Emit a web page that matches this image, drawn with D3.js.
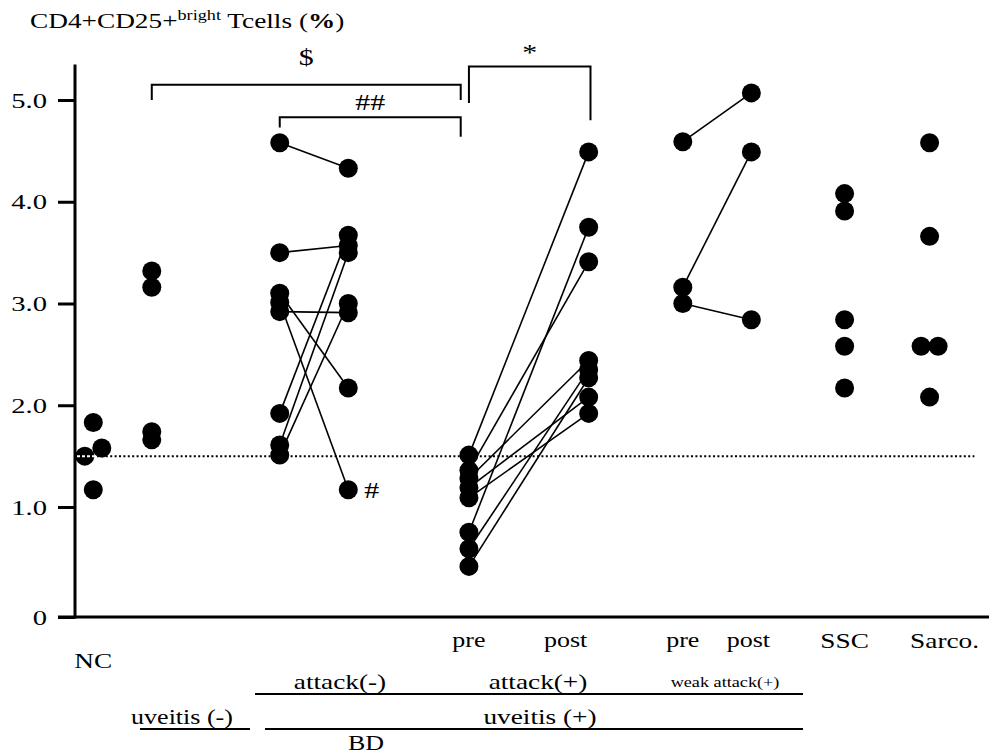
<!DOCTYPE html>
<html>
<head>
<meta charset="utf-8">
<script src="https://cdn.jsdelivr.net/npm/d3@7"></script>
<style>
  body { margin: 0; background: #fff; }
  text { font-family: "Liberation Serif", "Times New Roman", serif; fill: #000; }
</style>
</head>
<body>
<div id="chart"></div>
<script>
// values (percent)
const ncValues = [1.83, 1.58, 1.50, 1.17];
const uveitisNegValues = [3.32, 3.16, 1.74, 1.66];
// paired: pre[i] -> post[i]
const attackNegPre = [4.58, 3.50, 3.10, 3.01, 2.92, 1.92, 1.61, 1.51];
const attackNegPost = [4.33, 3.57, 2.17, 1.17, 2.91, 3.67, 3.50, 3.00];
const attackPosPre = [1.51, 1.36, 0.77, 1.28, 1.19, 1.09, 0.62, 0.46];
const attackPosPost = [4.49, 3.41, 3.75, 2.44, 2.08, 1.92, 2.35, 2.27];
const weakPre = [4.59, 3.16, 3.00];
const weakPost = [5.07, 4.49, 2.84];
const sscValues = [4.08, 3.91, 2.84, 2.58, 2.17];
const sarcoValues = [4.58, 3.66, 2.58, 2.58, 2.08];

const yTicks = [0, 1, 2, 3, 4, 5];
const yTickLabels = ["0", "1.0", "2.0", "3.0", "4.0", "5.0"];
const cutoff = 1.5;

// column layout (x scale units) and small side shifts for overlapping dots
const col = { nc: 2, uvNeg: 8.4, anPre: 22.4, anPost: 29.9, apPre: 43.1, apPost: 56.2,
              wPre: 66.5, wPost: 74, ssc: 84.2, sarco: 93.5 };
const ncShift = [0, 1, -1, 0];
const sarcoShift = [0, 0, -1, 1, 0];

const width = 989, height = 755;
const stretch = 1.3; // the original type is wide

const svg = d3.select("#chart").append("svg")
    .attr("width", width)
    .attr("height", height);

const x = d3.scaleLinear().domain([0, 100]).range([75, 989]);
// the axis is a bit stretched between 0 and 1 in the original
const y = d3.scaleLinear().domain([0, 1, 5]).range([617, 507, 100]);

// text helper: wide serif text
function label(g, t, tx, ty, size, anchor) {
    return g.append("text")
        .attr("transform", `translate(${tx},${ty}) scale(${stretch},1)`)
        .attr("text-anchor", anchor || "middle")
        .style("font-size", size + "px")
        .text(t);
}

// title
const title = svg.append("text")
    .attr("transform", `translate(30,28) scale(${stretch},1)`)
    .style("font-size", "21px");
title.append("tspan").text("CD4+CD25+");
title.append("tspan").attr("dy", -8).style("font-size", "14px").text("bright");
title.append("tspan").attr("dy", 8).text(" Tcells (");
title.append("tspan").style("font-weight", "bold").text("%");
title.append("tspan").text(")");

// Y axis
const yAxis = svg.append("g")
    .attr("transform", "translate(75,0)")
    .call(d3.axisLeft(y).tickValues(yTicks).tickSize(17).tickPadding(10)
        .tickFormat((d, i) => yTickLabels[i]));
yAxis.select(".domain").remove();
yAxis.selectAll(".tick line").attr("stroke", "#000").attr("stroke-width", 3);
yAxis.selectAll(".tick text")
    .attr("x", -28 / stretch)
    .attr("transform", `scale(${stretch},1)`)
    .style("font-size", "22px")
    .style("font-family", "Liberation Serif, serif");

svg.append("line")
    .attr("x1", 75).attr("x2", 75)
    .attr("y1", y(5.35)).attr("y2", y(0) + 1.5)
    .attr("stroke", "#000").attr("stroke-width", 3);
svg.append("line")
    .attr("x1", 58).attr("x2", width)
    .attr("y1", y(0)).attr("y2", y(0))
    .attr("stroke", "#000").attr("stroke-width", 3);

// dotted cutoff line
svg.append("line")
    .attr("x1", 75).attr("x2", x(98.4))
    .attr("y1", y(cutoff)).attr("y2", y(cutoff))
    .attr("stroke", "#000").attr("stroke-width", 2)
    .attr("stroke-dasharray", "2,2.4");

// paired lines
function pairs(pre, post, c1, c2) {
    svg.append("g").selectAll("line")
        .data(pre.map((v, i) => [v, post[i]]))
        .join("line")
        .attr("x1", x(c1)).attr("x2", x(c2))
        .attr("y1", d => y(d[0])).attr("y2", d => y(d[1]))
        .attr("stroke", "#000").attr("stroke-width", 1.6);
}
pairs(attackNegPre, attackNegPost, col.anPre, col.anPost);
pairs(attackPosPre, attackPosPost, col.apPre, col.apPost);
pairs(weakPre, weakPost, col.wPre, col.wPost);

// dots
const r = 9.5;
function dots(vals, c, shift) {
    svg.append("g").selectAll("circle")
        .data(vals)
        .join("circle")
        .attr("cx", (d, i) => x(c) + (shift ? shift[i] * 8.5 : 0))
        .attr("cy", d => y(d))
        .attr("r", r)
        .attr("fill", "#000");
}
dots(ncValues, col.nc, ncShift);
dots(uveitisNegValues, col.uvNeg);
dots(attackNegPre, col.anPre);
dots(attackNegPost, col.anPost);
dots(attackPosPre, col.apPre);
dots(attackPosPost, col.apPost);
dots(weakPre, col.wPre);
dots(weakPost, col.wPost);
dots(sscValues, col.ssc);
dots(sarcoValues, col.sarco, sarcoShift);

// the cutoff line shows white over the NC dot at 1.5
svg.append("line")
    .attr("x1", 77).attr("x2", x(col.nc) + 2)
    .attr("y1", y(cutoff)).attr("y2", y(cutoff))
    .attr("stroke", "#fff").attr("stroke-width", 2)
    .attr("stroke-dasharray", "3,2");

// "#" next to the lowest attack(-) post dot
label(svg, "#", x(col.anPost) + 16, y(1.17) + 8, 23, "start");

// significance brackets
const brackets = [
    { from: col.uvNeg, to: col.apPre - 0.9, top: 5.15, l: 5.0, rr: 5.0, label: "$", ly: 5.42 },
    { from: col.anPre, to: col.apPre - 0.9, top: 4.83, l: 4.73, rr: 4.64, label: "##", ly: 4.98 },
    { from: col.apPre, to: col.apPost + 0.2, top: 5.33, l: 4.97, rr: 4.80, label: "*", ly: 5.47 }
];
brackets.forEach(b => {
    svg.append("path")
        .attr("d", `M${x(b.from)},${y(b.l)}V${y(b.top)}H${x(b.to)}V${y(b.rr)}`)
        .attr("fill", "none").attr("stroke", "#000").attr("stroke-width", 2);
    label(svg, b.label, (x(b.from) + x(b.to)) / 2, y(b.ly) + 8, 23);
});

// group labels under the axis
const colLabels = [
    { t: "NC", c: col.nc, dx: 0, y: 668, s: 21 },
    { t: "pre", c: col.apPre, dx: 0, y: 647, s: 20 },
    { t: "post", c: col.apPost, dx: -23, y: 647, s: 20 },
    { t: "pre", c: col.wPre, dx: 0, y: 647, s: 20 },
    { t: "post", c: col.wPost, dx: -3, y: 647, s: 20 },
    { t: "SSC", c: col.ssc, dx: 0, y: 648, s: 21 },
    { t: "Sarco.", c: col.sarco, dx: 15, y: 648, s: 21 }
];
const colG = svg.append("g");
colLabels.forEach(d => label(colG, d.t, x(d.c) + d.dx, d.y, d.s));

const rowLabels = [
    { t: "attack(-)", cx: 340, y: 689, s: 21 },
    { t: "attack(+)", cx: 538, y: 689, s: 21 },
    { t: "weak attack(+)", cx: 725, y: 687, s: 14 },
    { t: "uveitis (-)", cx: 182, y: 724, s: 20 },
    { t: "uveitis (+)", cx: 540, y: 724, s: 21 },
    { t: "BD", cx: 366, y: 750, s: 20 }
];
const rowG = svg.append("g");
rowLabels.forEach(d => label(rowG, d.t, d.cx, d.y, d.s));

const rules = [[255, 803, 694], [140, 250, 729], [265, 803, 729]];
svg.append("g").selectAll("line")
    .data(rules)
    .join("line")
    .attr("x1", d => d[0]).attr("x2", d => d[1])
    .attr("y1", d => d[2]).attr("y2", d => d[2])
    .attr("stroke", "#000").attr("stroke-width", 2);
</script>
</body>
</html>
